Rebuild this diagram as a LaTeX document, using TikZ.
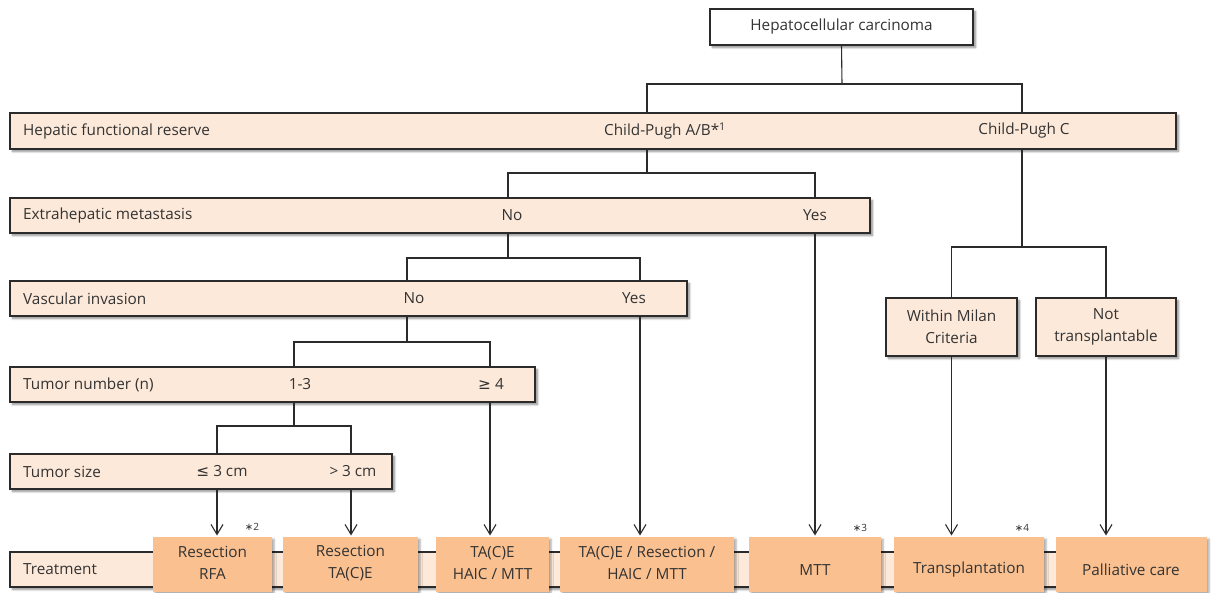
\documentclass[tikz,border=0pt]{standalone}
\usepackage{fontspec}
\setmainfont{Open Sans}
\newfontfamily\symfont{DejaVu Sans}
\usetikzlibrary{arrows.meta,shadows.blur}
\definecolor{barfill}{HTML}{FDE9D9}
\definecolor{boxfill}{HTML}{FAC090}
\definecolor{ink}{HTML}{2B2B2B}
\definecolor{txt}{HTML}{333333}
\tikzset{
  shad/.style={blur shadow={shadow xshift=2.5pt, shadow yshift=-2.5pt, shadow blur radius=2pt, shadow blur steps=6, shadow opacity=45}},
  bar/.style={draw=ink, line width=1.2pt, fill=barfill, anchor=north west, inner sep=0pt, outer sep=0pt, shad},
  whitebox/.style={draw=ink, line width=1.2pt, fill=white, anchor=north west, inner sep=0pt, outer sep=0pt, shad},
  critbox/.style={draw=ink, line width=1.2pt, fill=barfill, anchor=north west, inner sep=0pt, outer sep=0pt, shad, align=center},
  treatbox/.style={fill=boxfill, anchor=north west, inner sep=0pt, outer sep=0pt, minimum height=55pt, blur shadow={shadow xshift=2pt, shadow yshift=-2pt, shadow blur radius=2pt, shadow blur steps=5, shadow opacity=35}},
  lbl/.style={inner sep=0pt, text=txt},
  lblw/.style={lbl, anchor=west},
  twoline/.style={lbl, align=center, font=\fontsize{15.3}{22}\selectfont},
  note/.style={inner sep=0pt, text=txt, font=\fontsize{10}{12}\selectfont},
  conn/.style={draw=ink, line width=1.1pt},
  arr/.style={conn, -{Straight Barb[length=10pt,width=12pt,line width=1.1pt]}, shorten >=1.5pt},
}
\begin{document}
\begin{tikzpicture}[x=1pt,y=-1pt, font=\fontsize{15.3}{21}\selectfont]
\useasboundingbox (0,0) rectangle (1216,593);

% column positions
\coordinate (xAB) at (647,0);
\coordinate (xC) at (1022,0);
\coordinate (xNo1) at (508,0);
\coordinate (xYes1) at (815,0);
\coordinate (xNo2) at (407,0);
\coordinate (xYes2) at (640,0);
\coordinate (xN13) at (294,0);
\coordinate (xN4) at (490,0);
\coordinate (xLE3) at (217,0);
\coordinate (xGT3) at (351,0);
\coordinate (xMilan) at (951,0);
\coordinate (xNot) at (1106,0);

% junctions
\coordinate (j1) at (842,84);
\coordinate (j2) at (647,173);
\coordinate (j3) at (1022,247);
\coordinate (j4) at (508,258);
\coordinate (j5) at (407,342);
\coordinate (j6) at (294,426);

% top box
\node[whitebox, minimum width=263pt, minimum height=36pt] (hcc) at (710,9) {};
\node[lbl] (hcct) at (841.5,27) {Hepatocellular carcinoma};

% bars
\node[bar, minimum width=1166pt, minimum height=36pt] (bar1) at (10,113) {};
\node[bar, minimum width=860pt, minimum height=35pt] (bar2) at (10,198) {};
\node[bar, minimum width=677pt, minimum height=35pt] (bar3) at (10,281) {};
\node[bar, minimum width=525pt, minimum height=35pt] (bar4) at (10,367) {};
\node[bar, minimum width=382pt, minimum height=35pt] (bar5) at (10,454) {};
\node[bar, minimum width=1170pt, minimum height=35pt] (tbar) at (10,552) {};

% bar texts
\node[lblw] (l1) at (23,131) {Hepatic functional reserve};
\node[lbl] (cpab) at (665,131) {Child-Pugh A/B*\textsuperscript{1}};
\node[lbl] (cpc) at (1024,131) {Child-Pugh C};

\node[lblw] (l2) at (23,215.5) {Extrahepatic metastasis};
\node[lbl] (no1) at (512,215.5) {No};
\node[lbl] (yes1) at (815,215.5) {Yes};

\node[lblw] (l3) at (23,298.5) {Vascular invasion};
\node[lbl] (no2) at (414,298.5) {No};
\node[lbl] (yes2) at (634,298.5) {Yes};

\node[lblw] (l4) at (23,384.5) {Tumor number (n)};
\node[lbl] (n13) at (300,384.5) {1-3};
\node[lbl] (n4) at (491,384.5) {{\symfont ≥} 4};

\node[lblw] (l5) at (23,471.5) {Tumor size};
\node[lbl] (le3) at (222,471.5) {{\symfont ≤} 3 cm};
\node[lbl] (gt3) at (353,471.5) {> 3 cm};

\node[lblw] (l6) at (23,569.5) {Treatment};

% Child-Pugh C branch boxes
\node[critbox, minimum width=131pt, minimum height=58pt] (milan) at (886,298) {};
\node[twoline] (milant) at (951.5,327) {Within Milan\\Criteria};
\node[critbox, minimum width=140pt, minimum height=58pt] (nottr) at (1036,298) {};
\node[twoline] (nottrt) at (1106,327) {Not\\transplantable};

% treatment boxes
\node[treatbox, minimum width=119pt] (t1) at (153,537) {};
\node[treatbox, minimum width=135pt] (t2) at (283,537) {};
\node[treatbox, minimum width=113pt] (t3) at (436,537) {};
\node[treatbox, minimum width=174pt] (t4) at (560,537) {};
\node[treatbox, minimum width=132pt] (t5) at (749,537) {};
\node[treatbox, minimum width=150pt] (t6) at (894,537) {};
\node[treatbox, minimum width=151pt] (t7) at (1056,537) {};

\node[twoline] (t1t) at (212.5,563) {Resection\\RFA};
\node[twoline] (t2t) at (350.5,563) {Resection\\TA(C)E};
\node[twoline] (t3t) at (492.5,563) {TA(C)E\\HAIC / MTT};
\node[twoline] (t4t) at (647,563) {TA(C)E / Resection /\\HAIC / MTT};
\node[lbl] (t5t) at (815,570) {MTT};
\node[lbl] (t6t) at (969,570) {Transplantation};
\node[lbl] (t7t) at (1131,570) {Palliative care};

% notes
\node[note] (n2) at (252,527) {{\symfont ∗}2};
\node[note] (n3) at (860,528) {{\symfont ∗}3};
\node[note] (n4n) at (1022,528) {{\symfont ∗}4};

% connectors
\draw[conn] (hcc.south) -- (j1);
\draw[conn] (bar1.north -| xAB) |- (j1) -| (bar1.north -| xC);

\draw[conn] (bar1.south -| xAB) -- (j2);
\draw[conn] (bar2.north -| xNo1) |- (j2) -| (bar2.north -| xYes1);

\draw[conn] (bar1.south -| xC) -- (j3);
\draw[conn] (milan.north) |- (j3) -| (nottr.north);

\draw[conn] (bar2.south -| xNo1) -- (j4);
\draw[conn] (bar3.north -| xNo2) |- (j4) -| (bar3.north -| xYes2);

\draw[conn] (bar3.south -| xNo2) -- (j5);
\draw[conn] (bar4.north -| xN13) |- (j5) -| (bar4.north -| xN4);

\draw[conn] (bar4.south -| xN13) -- (j6);
\draw[conn] (bar5.north -| xLE3) |- (j6) -| (bar5.north -| xGT3);

% arrows to treatments
\draw[arr] (bar5.south -| xLE3) -- (t1.north -| xLE3);
\draw[arr] (bar5.south -| xGT3) -- (t2.north -| xGT3);
\draw[arr] (bar4.south -| xN4) -- (t3.north -| xN4);
\draw[arr] (bar3.south -| xYes2) -- (t4.north -| xYes2);
\draw[arr] (bar2.south -| xYes1) -- (t5.north -| xYes1);
\draw[arr] (milan.south) -- (t6.north -| milan.south);
\draw[arr] (nottr.south) -- (t7.north -| nottr.south);
\end{tikzpicture}
\end{document}
